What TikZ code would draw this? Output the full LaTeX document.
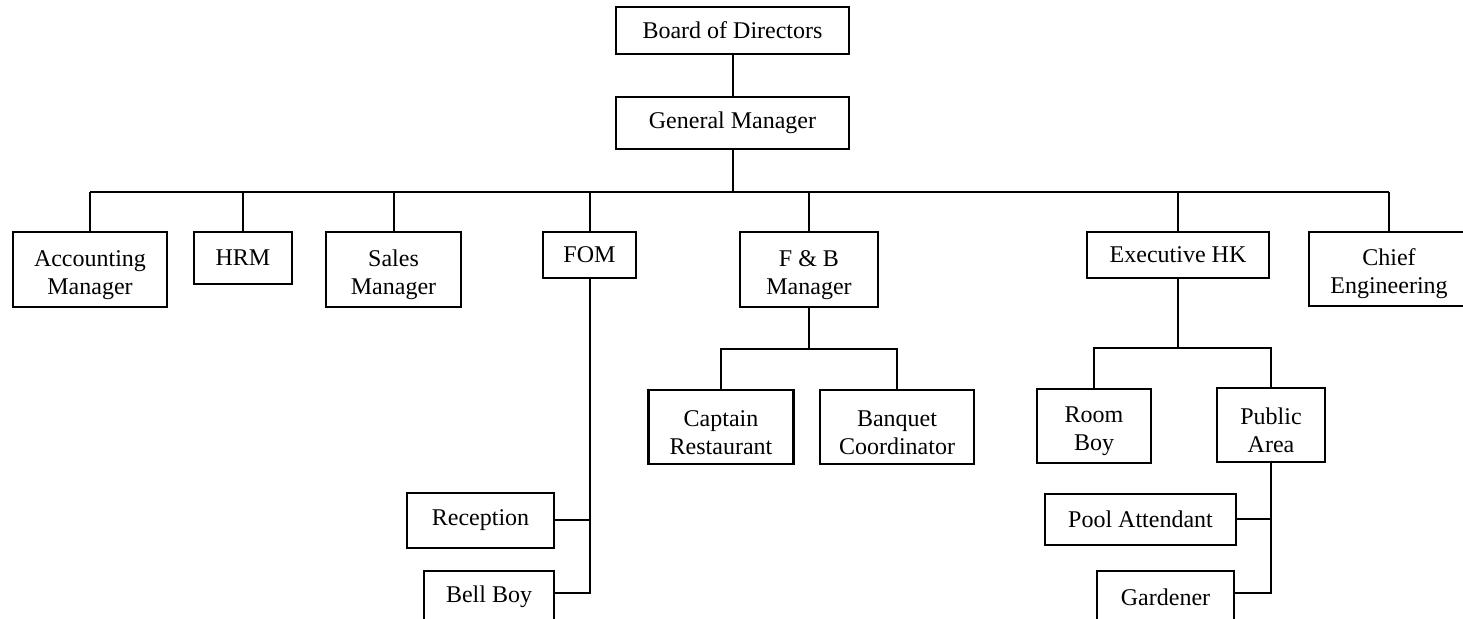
\documentclass[tikz,border=0pt]{standalone}
\usepackage{fontspec}
\setmainfont{Liberation Serif}
\usetikzlibrary{positioning}

\begin{document}
\begin{tikzpicture}[
  x=0.5pt, y=-0.5pt,
  post/.style={rectangle, draw, line width=1.1pt, inner sep=0pt, align=center, font=\fontsize{12}{14}\selectfont},
  tall/.style={text height=27.5pt},
  boxsize/.style 2 args={minimum width=#1*0.5pt, minimum height=#2*0.5pt},
  link/.style={line width=1pt}
]
\useasboundingbox (0,0) rectangle (1463,619);

% Top
\node[post, boxsize={233}{47}] (board) at (732.5,30.5) {Board of Directors};
\node[post, boxsize={233}{52}] (gm) at (732.5,123) {General Manager};

% Departments
\node[post, tall, boxsize={154}{75}] (acc) at (90,269.5) {Accounting\\Manager};
\node[post, boxsize={98}{52}] (hrm) at (243,258) {HRM};
\node[post, tall, boxsize={135}{75}] (sales) at (393.5,269.5) {Sales\\Manager};
\node[post, boxsize={93}{46}] (fom) at (589.5,255) {FOM};
\node[post, tall, boxsize={138}{75}] (fb) at (809,269.5) {F \& B\\Manager};
\node[post, boxsize={182}{46}] (hk) at (1178,255) {Executive HK};
\node[post, tall, boxsize={160}{74}] (chief) at (1389,269) {Chief\\Engineering};

% Staff
\node[post, tall, boxsize={145}{74}] (capt) at (721,427) {Captain\\Restaurant};
\node[post, tall, boxsize={154}{74}] (banq) at (897,427) {Banquet\\Coordinator};
\node[post, tall, boxsize={114}{74}] (room) at (1094,426) {Room\\Boy};
\node[post, tall, boxsize={108}{74}] (pub) at (1271,425) {Public\\Area};
\node[post, boxsize={147}{55}] (rec) at (480.5,520.5) {Reception};
\node[post, boxsize={130}{52}] (bell) at (489,597) {Bell Boy};
\node[post, boxsize={191}{51}] (pool) at (1140.5,519.5) {Pool Attendant};
\node[post, boxsize={137}{52}] (gard) at (1165.5,597) {Gardener};

% Lines
\coordinate (bus) at (732.5,192);
\coordinate (fbbus) at (809,349);
\coordinate (hkbus) at (1178,348);

\draw[link] (board) -- (gm);
\draw[link] (gm) -- (bus);
\draw[link] (acc |- bus) -- (chief |- bus);
\foreach \n in {acc,hrm,sales,fom,fb,hk,chief}
  \draw[link] (\n) -- (\n |- bus);

\draw[link] (fb) -- (fbbus);
\draw[link] (capt) |- (fbbus);
\draw[link] (banq) |- (fbbus);

\draw[link] (hk) -- (hkbus);
\draw[link] (room) |- (hkbus);
\draw[link] (pub) |- (hkbus);

\draw[link] (fom) |- (rec);
\draw[link] (fom) |- ([yshift=2pt]bell.east);
\draw[link] (pub) |- (pool);
\draw[link] (pub) |- ([yshift=2pt]gard.east);

\end{tikzpicture}
\end{document}
